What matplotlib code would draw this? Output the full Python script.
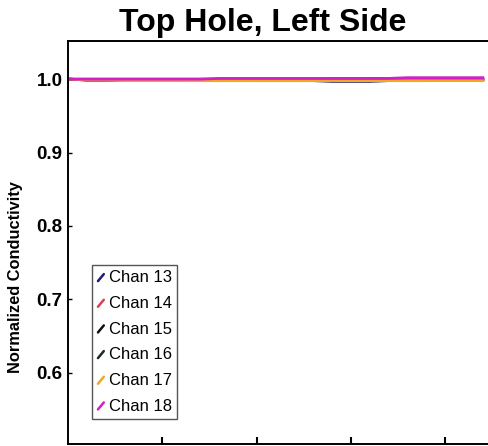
import numpy as np
import matplotlib
matplotlib.use('Agg')
import matplotlib.pyplot as plt
from matplotlib.legend_handler import HandlerLine2D
from matplotlib.lines import Line2D

plt.rcParams['font.family'] = ['Liberation Sans', 'DejaVu Sans']

# time in hours (sample every 0.2 h)
hours = [0.0, 0.2, 0.4, 0.6, 0.8, 1.0, 1.2, 1.4, 1.6, 1.8, 2.0, 2.2,
         2.4, 2.6, 2.8, 3.0, 3.2, 3.4, 3.6, 3.8, 4.0, 4.2, 4.4]

channels = ['Chan 13', 'Chan 14', 'Chan 15', 'Chan 16', 'Chan 17', 'Chan 18']
colours = ['#1c1c7a', '#d8405a', '#111111', '#1d2b22', '#f2a81e', '#d21fc8']

chan13 = [1.000, 0.999, 0.999, 0.999, 0.999, 0.999, 0.999, 0.999, 0.998, 0.999,
          0.998, 0.998, 0.998, 0.998, 0.997, 0.997, 0.997, 0.998, 0.998, 0.998,
          0.999, 0.999, 0.999]
chan14 = [1.000, 1.000, 1.000, 1.000, 1.000, 1.000, 1.000, 1.000, 1.000, 1.000,
          1.000, 1.000, 1.000, 1.000, 1.001, 1.001, 1.001, 1.001, 1.001, 1.001,
          1.001, 1.001, 1.001]
chan15 = [1.000, 0.999, 0.999, 0.999, 0.999, 0.999, 0.999, 0.999, 0.999, 0.999,
          0.999, 0.999, 0.999, 0.999, 0.999, 0.999, 1.000, 1.000, 1.000, 1.000,
          1.000, 1.000, 1.000]
chan16 = [1.000, 0.999, 0.999, 0.999, 0.999, 0.999, 0.998, 0.998, 0.998, 0.998,
          0.998, 0.998, 0.998, 0.998, 0.998, 0.998, 0.998, 0.999, 0.999, 0.999,
          0.999, 0.999, 0.999]
chan17 = [1.000, 0.999, 0.999, 0.998, 0.998, 0.998, 0.998, 0.998, 0.998, 0.998,
          0.998, 0.998, 0.998, 0.998, 0.998, 0.998, 0.998, 0.998, 0.998, 0.998,
          0.998, 0.998, 0.998]
chan18 = [1.000, 1.000, 1.000, 1.000, 1.000, 1.000, 1.000, 1.000, 1.001, 1.001,
          1.001, 1.001, 1.001, 1.001, 1.001, 1.001, 1.001, 1.001, 1.002, 1.002,
          1.002, 1.002, 1.002]
series = [chan13, chan14, chan15, chan16, chan17, chan18]

yticks = [0.6, 0.7, 0.8, 0.9, 1.0]
xticks = [1, 2, 3, 4]


class SlashHandler(HandlerLine2D):
    # short diagonal stroke instead of a horizontal line
    def create_artists(self, legend, orig_handle, xdescent, ydescent,
                       width, height, fontsize, trans):
        line = Line2D([0.15 * width, 0.85 * width],
                      [0.1 * height, 0.7 * height],
                      color=orig_handle.get_color(), lw=1.8,
                      solid_capstyle='round')
        line.set_transform(trans)
        return [line]


fig = plt.figure(figsize=(4.89, 4.46), dpi=100)
ax = fig.add_axes([0.139, 0.0045, 0.883, 0.9036])

for vals, col, name in zip(series, colours, channels):
    ax.plot(hours, vals, color=col, lw=2.0, label=name)

ax.set_xlim(0, 4.58)
ax.set_ylim(0.503, 1.052)
ax.set_xticks(xticks)
ax.set_xticklabels([])
ax.set_yticks(yticks)
ax.set_yticklabels(['%.1f' % t for t in yticks], fontsize=13.5, fontweight='bold')
ax.tick_params(axis='x', direction='in', length=5, width=1.5)
ax.tick_params(axis='y', direction='in', length=3, width=1, pad=4)
ax.spines['right'].set_visible(False)
for s in ['left', 'top', 'bottom']:
    ax.spines[s].set_linewidth(1.4)

ax.set_ylabel('Normalized Conductivity', fontsize=11.8, fontweight='bold')
ax.yaxis.set_label_coords(-0.105, 0.415)

fig.text(0.538, 0.948, 'Top Hole, Left Side', ha='center', va='center',
         fontsize=23, fontweight='bold')

leg = ax.legend(loc='lower left', bbox_to_anchor=(0.055, 0.063),
                handler_map={Line2D: SlashHandler()},
                fontsize=12, handlelength=0.5, handletextpad=0.25,
                labelspacing=0.64, borderpad=0.3, borderaxespad=0,
                fancybox=False, framealpha=1, edgecolor='#555555')
leg.get_frame().set_linewidth(1.0)

fig.savefig('out.png', dpi=100)
